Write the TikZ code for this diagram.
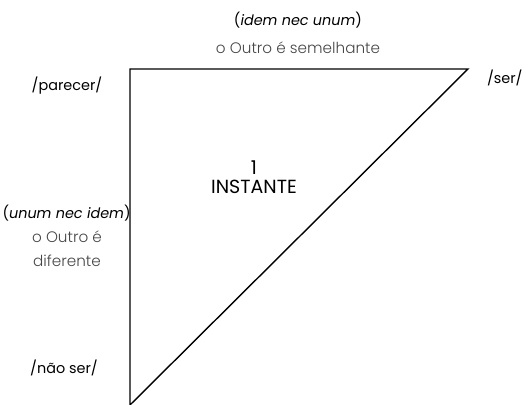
\documentclass[tikz,border=0pt]{standalone}
\usepackage{fontspec}
\setmainfont{Poppins}
\newfontfamily\thinfont{Poppins}[UprightFont=* Light]
\usetikzlibrary{positioning}
\definecolor{lightText}{RGB}{70,70,70}
\tikzset{
  vertexlabel/.style={font=\fontsize{7.2}{10}\selectfont, text=black, inner sep=0pt},
  latinlabel/.style={font=\fontsize{7.2}{10}\selectfont, text=black, inner sep=0pt},
  glosslabel/.style={font=\thinfont\fontsize{7.6}{12}\selectfont, text=lightText, align=center, inner sep=0pt},
  centerlabel/.style={font=\fontsize{9.5}{9.5}\selectfont, text=black, align=center, inner sep=0pt},
  side/.style={draw=black, line width=0.7pt}
}
\begin{document}
\begin{tikzpicture}[x=0.5pt,y=-0.5pt]
  \useasboundingbox (0,0) rectangle (526,405);
  % triangle corners
  \coordinate (topleft) at (130,69);
  \coordinate (topright) at (468,69);
  \coordinate (bottomleft) at (130,405);
  \draw[side] (bottomleft) -- (topleft) -- (topright) -- cycle;

  % vertex labels
  \node[vertexlabel] (parecer) at (67,86) {/parecer/};
  \node[vertexlabel, anchor=east] (ser) at (523,78) {/ser/};
  \node[vertexlabel] (naoser) at (64,368) {/não ser/};

  % top side
  \node[latinlabel] (idem) at (298,20) {(\textit{idem nec unum})};
  \node[glosslabel] (semelhante) at (298,48) {o Outro é semelhante};

  % left side
  \node[latinlabel, anchor=east] (unum) at (131,213) {(\textit{unum nec idem})};
  \node[glosslabel] (diferente) at (67,249) {o Outro é\\diferente};

  \node[centerlabel] (instante) at (254,177) {1\\INSTANTE};
\end{tikzpicture}
\end{document}
